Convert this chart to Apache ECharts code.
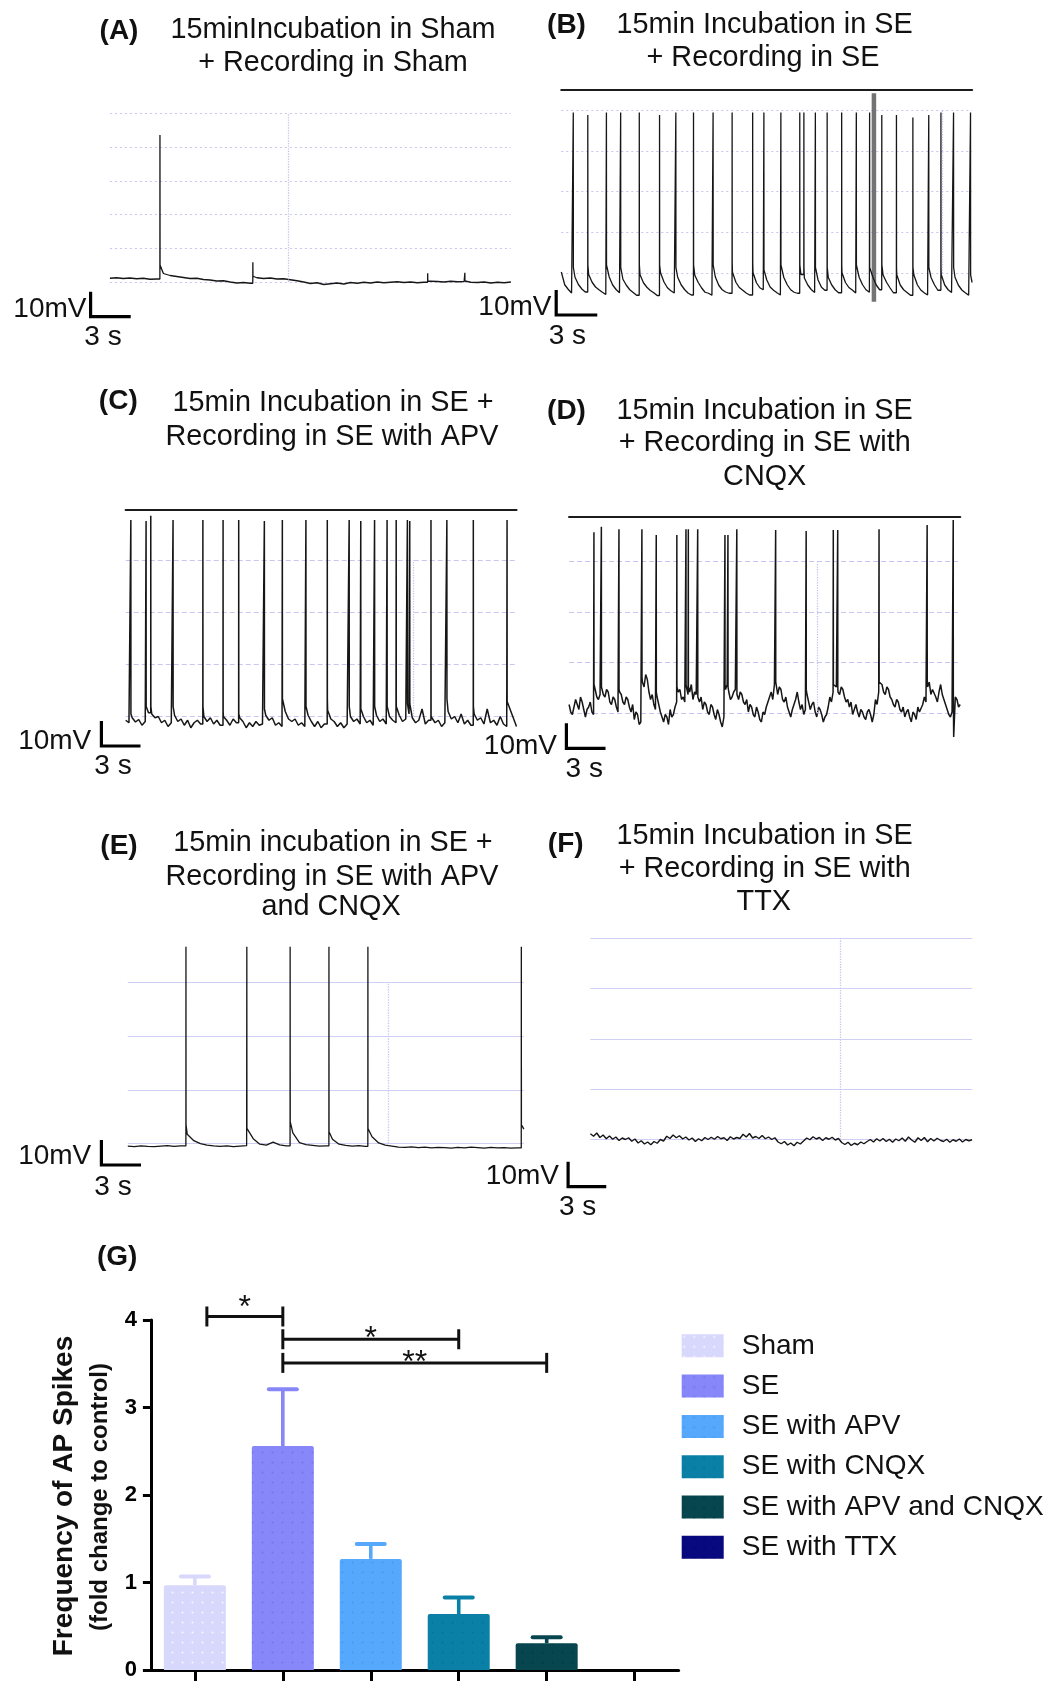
<!DOCTYPE html>
<html><head><meta charset="utf-8">
<script src="https://cdn.jsdelivr.net/npm/echarts/dist/echarts.min.js"></script>
<style>html,body{margin:0;padding:0;background:#fff}#c{width:1051px;height:1681px}</style>
</head><body><div id="c"></div>
<script>
// ---------------- DATA ----------------
// Bar chart (G)
const categories = ['Sham', 'SE', 'SE with APV', 'SE with CNQX', 'SE with APV and CNQX', 'SE with TTX'];
const freqMean = [0.97, 2.56, 1.27, 0.64, 0.305, 0];
const freqSem = [0.10, 0.65, 0.17, 0.19, 0.07, 0];
const sigFrom = [0, 1, 1];
const sigTo = [1, 3, 4];
const sigLevel = [4.04, 3.78, 3.51];
const sigMark = ['*', '*', '**'];

// Traces: baseline samples (mV, relative to rest) every step seconds; spikes: time (s), peak (mV), level right after (mV)
const stepA = 0.5;
const baseA = [0.7,0.9,0.6,0.8,0.5,0.7,0.3,0.4, 2.6,1.8,1.4,1.0,0.6,0.7,0.2,0.0,-0.4,-0.3,-0.8,-1.2,-1.0,-1.3,
  0.9,0.6,0.8,0.4,0.5,0.1,-0.3,-0.8,-1.4,-1.1,-1.8,-1.5,-1.2,-1.6,-1.0,-1.3,-0.9,-1.2,-0.8,-1.1,-0.9,-0.7,-1.0,-0.8,
  -1.1,-0.9,-0.5,-0.6,-0.8,-0.5,-0.7,-0.6,-0.9,-1.0,-0.8,-1.2,-0.9,-1.1,-0.8];
const spikeTimesA = [3.74, 10.69, 23.77, 26.55];
const spikePeaksA = [58, 7.1, 2.7, 2.9];
const spikeAfterA = [6, 1.5, -0.5, -0.4];

const stepB = 0.25;
const baseB = [7.2,2.1,0.3,-1.2,5.1,2.2,0.4,-0.8,6.2,3.1, 1.2,0.1,-0.9,-1.8,5.2,2.0,0.2,-1.1,4.3,1.9,
  0.1,-1.0,-2.1,6.1,2.9,1.1,-0.2,-1.1,-2.2,6.8, 3.2,0.9,-0.3,-1.2,5.1,2.1,0.2,-1.2,-2.0,5.9,
  3.0,0.8,-0.9,-1.3,-2.1,5.2,1.9,0.1,-0.8,-1.3, 7.1,3.1,1.0,-0.1,-1.2,-2.0,7.0,2.9,0.9,0.1,
  4.1,1.2,-0.1,-1.1,-2.0,5.0,2.1,0.1,-0.9,-1.3, 6.2,4.8,2.0,0.2,-1.0,4.0,1.1,-0.1,5.0,2.0,
  0.1,-1.1,6.9,3.0,1.0,0.0,-1.2,5.1,2.1,0.1, -0.9,5.2,2.0,0.1,6.0,3.1,0.9,-1.1,6.1,2.0,
  0.1,-1.0,-2.1,6.0,2.1,0.0,-1.1,-2.0,5.0,2.1, -0.1,6.1,2.0,0.1,-1.0,5.1,1.9,0.0,-1.1,-2.1, 3.0];
const spikeTimesB = [0.87,1.93,3.29,4.33,5.69,7.17,8.36,9.65,11.08,12.47,13.97,14.79,16.03,17.41,17.71,18.55,19.41,20.47,21.54,22.51,23.40,24.47,25.67,26.83,27.72,28.64,29.88];
const spikePeaksB = [71,70,71,71,71,70,71,71,71,71,71,71,71,71,71,71,71,71,71,71,70,70,69,70,71,71,71];
const spikeAfterB = [9,10,10,9,10,10,9,10,10,11,11,8,10,10,9,9,9,10,10,9,10,9,9,9,9,9,6];
const artifactB = [22.83, -4.7, 78.7]; // time, from, to

const stepC = 0.25;
const baseC = [1.5,0.5,2.5,0.8,1.8,-0.5,1.0,4.5,4.0,2.5, 3.0,0.5,1.5,-1.0,0.5,3.5,1.0,2.0,-0.5,1.5,
  -1.5,0.5,1.5,0.0,3.0,1.0,2.5,0.0,1.5,-0.5, 3.0,1.5,-0.5,2.0,0.5,2.5,1.0,-1.5,0.5,-1.0,
  1.0,-0.5,0.0,3.5,1.5,2.5,-0.5,0.5,-1.0,5.0, 2.0,1.0,2.0,-0.5,0.5,-1.0,3.5,1.0,-1.0,1.0,
  -1.5,0.0,5.5,2.0,1.0,-1.0,0.5,-1.5,0.0,3.0, 1.0,2.0,0.0,3.0,0.5,1.5,-0.5,3.5,1.0,2.0,
  0.0,3.0,1.5,0.5,3.5,1.0,2.0,4.0,2.5,0.5, 1.5,6.0,0.0,1.5,2.5,0.5,1.5,-1.0,0.5,5.0,
  2.0,3.0,0.5,4.0,0.0,1.5,-0.5,4.0,1.5,2.5, 0.0,6.0,0.5,1.5,-0.5,3.0,0.0,-1.0,6.0,2.5, -1.0];
const spikeTimesC = [0.39,1.56,1.92,3.63,5.92,7.47,8.67,10.64,12.02,13.83,15.47,17.15,18.04,19.10,20.06,20.76,21.62,21.80,23.43,24.65,26.68,29.27];
const spikePeaksC = [81.6,81.2,83.3,81.6,81.6,81.6,81.6,81.2,81.6,81.6,81.6,81.6,81.2,81.6,81.6,81.6,81.6,81.2,81.6,81.6,81.6,81.6];
const spikeAfterC = [4,7,7,7,7,5,4,6,10,7,10,7,6,7,7,7,8,8,3,10,7,9];

const stepD = 0.125;
const baseD = [1,-2, -3,0, 3,1, -1,4, 2,-1, -4,-1, 0,2, -2,-3, 7,4, 3,5,
  8,5, 4,7, 6,2, 1,4, 3,0, -2,6, 5,2, 1,4, 3,0, -2,1,
  -5,-2, -3,-7, -6,10, 8,13, 11,6, 3,5, 1,-1, 4,1, -2,-4, -6,-3,
  -4,-7, -1,-4, -3,0, 2,6, 7,3, 4,2, 8,5, 6,9, 3,6, 5,4,
  2,4, -1,2, 1,-2, -3,1, 0,-3, -5,-1, -3,-6, -8,-4, 7,9, 6,3,
  4,6, 7,5, 3,6, 5,2, 1,3, -2,1, 0,-3, -4,0, -2,-5, -6,-2,
  -3,0, 2,4, 6,3, 9,10, 5,8, 7,3, 2,4, 0,-2, -4,-1, 1,3,
  6,2, -1,1, -3,-1, 5,2, -1,1, 2,-2, -4,0, -1,-3, -6,-4, -3,0,
  4,2, 6,9, 8,6, 5,8, 7,4, 2,3, 0,2, -3,-1, 1,-2, -4,-1,
  -2,-4, -5,-2, -1,-3, -6,-3, 3,1, 6,10, 9,6, 5,8, 7,4, 3,1,
  0,3, 2,-1, -2,0, -4,-2, -1,-4, -6,-2, -3,-5, 0,-2, -2,1, 4,2,
  8,10, 5,7, 7,4, 2,6, 9,5, 3,1, -1,-3, -4,-2, -12,4, 3,0, 1];
const spikeTimesD = [1.90,2.47,3.82,5.58,6.68,8.26,8.96,9.14,9.86,11.95,12.18,12.86,15.84,18.18,20.26,20.60,23.77,27.46,29.46];
const spikePeaksD = [69.9,72.1,71.1,71.1,68.8,68.8,71.1,71.1,71.1,68.8,68.8,71.1,70.8,70.4,70.8,70.8,71.1,72.8,74.8];
const spikeAfterD = [9,8,7,12,6,8,9,8,7,9,8,8,10,7,9,8,10,9,6];

const stepE = 0.5;
const baseE = [0.2,0.0,0.3,0.1,0.0,0.2,0.4,0.1,0.3, 5.0,2.4,1.2,0.6,0.3,0.1,0.3,0.0,0.2,
  0.4,3.2,1.0,0.6,1.8,0.7,0.3, 5.5,1.6,0.8,0.5,0.2,0.3, 3.0,1.0,0.5,0.2,0.4,0.1,
  4.0,1.5,0.6,0.2,-0.2,-0.3,-0.1,-0.4,-0.2,-0.5,-0.3,-0.4,-0.6,-0.3,-0.5,-0.2,-0.4,-0.6,-0.3,-0.5,-0.4,-0.6,-0.5, 7.0];
const spikeTimesE = [4.40, 9.01, 12.29, 15.23, 18.18, 29.80];
const spikePeaksE = [80, 80, 80, 80, 80, 80];
const spikeAfterE = [8.7, 7.3, 10, 6, 7.3, 8.7];

const stepF = 0.25;
const baseF = [2.5,1.5,2.8,1.0,2.0,0.5,1.6,0.3,1.2,-0.2,0.8,0.2,0.9,
  -0.5,0.4,-1.2,-0.3,-1.6,-0.8,-1.9,-0.6,-1.3,0.2,-0.4,
  1.5,0.6,2.0,0.9,1.7,0.4,1.2,0.0, 0.8,-0.6,0.5,-0.3,1.0,0.2,
  1.1,0.3,1.4,0.5,0.9,-0.2,1.3,0.4,1.0,0.6, 2.3,1.2,2.6,0.8, 1.4,0.6,1.8,0.5,1.2,0.2,0.9,
  -0.8,-1.5,-0.6,-2.0,-1.2,-2.3,-0.9,-1.6,-0.4, 0.8,0.1,1.3,0.4,1.0,-0.2,0.9,0.3,1.1,0.0,0.6,
  -1.0,-1.8,-0.9,-2.2,-1.3,-1.9,-0.8,-1.5,-0.6, 0.2,-0.8,0.5,-0.4,0.6,-0.6,0.3,-0.9,0.4,-0.3,
  0.8,-0.5,1.2,0.0,-0.9,0.9,-0.2,1.0,-0.7,0.6,-0.4,0.7,-0.1, -0.6,0.3,-0.9,0.1,-0.5,0.4,-0.8,0.2,-0.3,0.1];

const scaleBarMV = 10, scaleBarS = 3, traceSeconds = 30;

// ---------------- STYLE / LAYOUT ----------------
const FONT = '"Liberation Sans", Arial, Helvetica, sans-serif';
const barColors = ['#d8d8fd', '#8787f9', '#56a8fd', '#0b80a6', '#07464f', '#08087f'];
const decalColors = ['rgba(255,255,255,0.85)', 'rgba(95,95,225,0.45)', 'rgba(40,135,235,0.45)', 'rgba(0,95,130,0.45)', 'rgba(0,45,55,0.5)', 'rgba(0,0,90,0.3)'];
const sigInsetPx = [12, 0, 0];   // bracket left-end inset (px)
const sigStarLiftPx = [15, 7, 7]; // star height above bracket (px)
const PX_PER_MV = 2.5;
const TITLE_SIZE = 28.8;
const panels = [
  {left:109.9, top:113.3, width:401,   divPx:33.75, nDiv:5, zero:280,    topLine:null, vLine:13.35, barPx:[90.6, 316.7],  base:baseA, step:stepA, t:spikeTimesA, p:spikePeaksA, a:spikeAfterA, div:'dotted', lw:1.3},
  {left:561.3, top:110,   width:410.8, divPx:40.8,  nDiv:4, zero:290,    topLine:20,   vLine:27.85, barPx:[556.2, 315],   base:baseB, step:stepB, t:spikeTimesB, p:spikePeaksB, a:spikeAfterB, div:'dotted', lw:1.3},
  {left:125.7, top:560,   width:390.8, divPx:52.2,  nDiv:3, zero:724,    topLine:50.7, vLine:22.05, barPx:[101.4, 746],   base:baseC, step:stepC, t:spikeTimesC, p:spikePeaksC, a:spikeAfterC, div:'dashed', lw:1.5},
  {left:569.1, top:561,   width:391.1, divPx:50.8,  nDiv:3, zero:707,    topLine:44.3, vLine:19.04, barPx:[566.4, 748.3], base:baseD, step:stepD, t:spikeTimesD, p:spikePeaksD, a:spikeAfterD, div:'dashed', lw:1.5},
  {left:127.8, top:982.7, width:396.1, divPx:53.65, nDiv:3, zero:1146.7, topLine:null, vLine:19.71, barPx:[101.4, 1165],  base:baseE, step:stepE, t:spikeTimesE, p:spikePeaksE, a:spikeAfterE, div:'solid', lw:1.3},
  {left:590.4, top:938.3, width:381.7, divPx:50.3,  nDiv:4, zero:1140,   topLine:null, vLine:19.62, barPx:[568.1, 1186.7], base:baseF, step:stepF, t:[], p:[], a:[], div:'solid', lw:1.4}
];

function traceData(base, step, times, peaks, afters) {
  const pts = base.map((v, i) => [Math.round(i * step * 1000) / 1000, v]);
  times.forEach((t, k) => {
    const b = base[Math.floor(t / step)];
    pts.push([t, b], [t + 0.005, peaks[k]], [t + 0.012, afters[k]]);
  });
  pts.sort((u, v) => u[0] - v[0]);
  return pts;
}

const grids = [], xAxes = [], yAxes = [], series = [];
const topAxes = [];
// grids 0-5: traces
panels.forEach((pn, i) => {
  const h = pn.nDiv * pn.divPx;
  const yMax = (pn.zero - pn.top) / PX_PER_MV;
  const yMin = yMax - h / PX_PER_MV;
  grids.push({left: pn.left, top: pn.top, width: pn.width, height: h, containLabel: false});
  xAxes.push({gridIndex: i, type: 'value', min: 0, max: traceSeconds, show: false});
  yAxes.push({gridIndex: i, type: 'value', min: yMin, max: yMax, show: false});
  if (pn.topLine != null) {
    topAxes.push({gridIndex: i, type: 'value', position: 'top', offset: pn.topLine, min: 0, max: 1,
      axisLine: {show: true, onZero: false, lineStyle: {color: '#1c1c1c', width: 2.2}},
      axisTick: {show: false}, axisLabel: {show: false}, splitLine: {show: false}});
  }
  series.push({
    type: 'line', xAxisIndex: i, yAxisIndex: i, clip: false, symbol: 'none', showSymbol: false, z: 4,
    data: traceData(pn.base, pn.step, pn.t, pn.p, pn.a),
    lineStyle: {color: '#161616', width: pn.lw},
    markLine: {silent: true, symbol: ['none', 'none'], label: {show: false}, animation: false,
      lineStyle: {color: '#c4c4ef', type: 'dotted', width: 1.3}, data: [{xAxis: pn.vLine}]}
  });
});
// grid 6: bar chart
grids.push({left: 150.9, top: 1320, width: 527.7, height: 350, containLabel: false});
// grids 7-12: scale bars (3 s x 10 mV, sized with each panel's own scale)
panels.forEach((pn, i) => {
  const w = scaleBarS * pn.width / traceSeconds, h = scaleBarMV * PX_PER_MV;
  grids.push({left: pn.barPx[0], top: pn.barPx[1] - h, width: w, height: h, containLabel: false});
});

// xAxes: 0-5 traces, 6 bar chart, 7-12 scale bars, then top lines
xAxes.push({gridIndex: 6, type: 'category', data: categories, boundaryGap: true,
  axisLine: {show: true, onZero: false, lineStyle: {color: '#000', width: 3}},
  axisTick: {show: true, alignWithLabel: true, interval: 0, length: 12, lineStyle: {color: '#000', width: 3}},
  axisLabel: {show: false, interval: 0}, splitLine: {show: false}});
panels.forEach((pn, i) => {
  xAxes.push({gridIndex: 7 + i, type: 'value', min: 0, max: scaleBarS, show: false});
});
topAxes.forEach(a => xAxes.push(a));

// yAxes: 0-5 traces, 6-11 divisions, 12 bar chart, 13-18 scale bars
panels.forEach((pn, i) => {
  yAxes.push({gridIndex: i, type: 'value', inverse: true, min: 0, max: pn.nDiv, interval: 1,
    axisLine: {show: false}, axisTick: {show: false}, axisLabel: {show: false},
    splitLine: {show: true, lineStyle: {color: pn.div === 'solid' ? '#cfcff6' : '#c6c6f0', width: 1.2,
      type: pn.div === 'solid' ? 'solid' : (pn.div === 'dotted' ? [2, 3] : [5, 3])}}});
});
const gY = yAxes.length;
yAxes.push({gridIndex: 6, type: 'value', min: 0, max: 4, interval: 1,
  axisLine: {show: true, lineStyle: {color: '#000', width: 3}},
  axisTick: {show: true, length: 8, lineStyle: {color: '#000', width: 3}},
  axisLabel: {show: true, margin: 14, formatter: '{t|{value}}',
    rich: {t: {fontSize: 22, fontWeight: 'bold', color: '#000', fontFamily: 'Liberation Sans'}}},
  splitLine: {show: false}});
panels.forEach((pn, i) => {
  const yi = yAxes.length;
  yAxes.push({gridIndex: 7 + i, type: 'value', min: 0, max: scaleBarMV, show: false});
  series.push({
    type: 'line', xAxisIndex: 7 + i, yAxisIndex: yi, clip: false, symbol: 'none', showSymbol: false, z: 5,
    data: [[0, scaleBarMV], [0, 0], [scaleBarS, 0]],
    lineStyle: {color: '#000', width: 3.2, join: 'miter', cap: 'butt'}
  });
});

// artifact in panel B
series.push({type: 'line', xAxisIndex: 1, yAxisIndex: 1, clip: false, symbol: 'none', showSymbol: false, z: 3,
  data: [[artifactB[0], artifactB[1]], [artifactB[0], artifactB[2]]],
  lineStyle: {color: '#5b5b5b', width: 4.5, opacity: 0.85}});

categories.forEach((name, i) => {
  series.push({
    type: 'bar', name: name, xAxisIndex: 6, yAxisIndex: gY, barWidth: 62, barGap: '-100%', z: 2,
    data: categories.map((_, j) => (j === i ? freqMean[i] : '-')),
    itemStyle: {color: barColors[i], borderRadius: [2, 2, 0, 0],
      decal: {symbol: 'circle', symbolSize: 0.4, dashArrayX: 5, dashArrayY: 5, color: decalColors[i]}}
  });
});
series.push({
  type: 'custom', xAxisIndex: 6, yAxisIndex: gY, z: 3, encode: {x: 0, y: 1},
  data: freqMean.map((m, i) => [i, m, freqSem[i]]),
  renderItem: (params, api) => {
    const i = api.value(0), m = api.value(1), s = api.value(2);
    if (!(s > 0)) return null;
    const p0 = api.coord([i, m]), p1 = api.coord([i, m + s]);
    const col = barColors[params.dataIndex];
    return {type: 'group', children: [
      {type: 'line', shape: {x1: p0[0], y1: p0[1], x2: p1[0], y2: p1[1]}, style: {stroke: col, lineWidth: 3.6}},
      {type: 'line', shape: {x1: p1[0] - 14, y1: p1[1], x2: p1[0] + 14, y2: p1[1]}, style: {stroke: col, lineWidth: 4, lineCap: 'round'}}
    ]};
  }
});
series.push({
  type: 'custom', xAxisIndex: 6, yAxisIndex: gY, z: 4, clip: false, encode: {x: 0, y: 2},
  data: sigFrom.map((f, k) => [f, sigTo[k], sigLevel[k]]),
  renderItem: (params, api) => {
    const k = params.dataIndex;
    const a = api.coord([api.value(0), api.value(2)]);
    const b = api.coord([api.value(1), api.value(2)]);
    const ax = a[0] + sigInsetPx[k];
    const hh = 10;
    const st = {stroke: '#111', lineWidth: 3};
    return {type: 'group', children: [
      {type: 'line', shape: {x1: ax, y1: a[1], x2: b[0], y2: b[1]}, style: st},
      {type: 'line', shape: {x1: ax, y1: a[1] - hh, x2: ax, y2: a[1] + hh}, style: st},
      {type: 'line', shape: {x1: b[0], y1: b[1] - hh, x2: b[0], y2: b[1] + hh}, style: st},
      {type: 'text', x: (ax + b[0]) / 2, y: a[1] + 7 - sigStarLiftPx[k], style: {text: sigMark[k], fill: '#111',
        font: '32px "Liberation Sans", Arial, sans-serif', align: 'center', verticalAlign: 'middle', textAlign: 'center', textVerticalAlign: 'middle'}}
    ]};
  }
});

// ---------------- TEXTS ----------------
function T(x, y, s, o) {
  o = o || {};
  const al = o.align || 'center';
  return {type: 'text', x: x, y: y, rotation: o.rot || 0, silent: true, z: 10,
    style: {text: s, fill: '#111', font: (o.bold ? 'bold ' : '') + (o.size || 28) + 'px ' + FONT,
      align: al, verticalAlign: 'middle', textAlign: al, textVerticalAlign: 'middle'}};
}
const R = {align: 'right'}, B = {bold: true}, H = {size: TITLE_SIZE};
const graphics = [
  T(119, 31.5, '(A)', B), T(333, 30.5, '15minIncubation in Sham', H), T(333, 63.5, '+ Recording in Sham', H),
  T(86.5, 309, '10mV', R), T(103, 337, '3 s'),
  T(566.5, 25, '(B)', B), T(764.6, 25, '15min Incubation in SE', H), T(763, 58.5, '+ Recording in SE', H),
  T(551.5, 307, '10mV', R), T(567.4, 336, '3 s'),
  T(118.3, 401, '(C)', B), T(333, 403.3, '15min Incubation in SE +', H), T(332, 437.5, 'Recording in SE with APV', H),
  T(91.3, 741, '10mV', R), T(113, 766, '3 s'),
  T(566.5, 411, '(D)', B), T(764.6, 411, '15min Incubation in SE', H), T(764.7, 443.5, '+ Recording in SE with', H),
  T(764.7, 477.5, 'CNQX', H), T(557, 746, '10mV', R), T(584.3, 769, '3 s'),
  T(119, 846, '(E)', B), T(333, 843.3, '15min incubation in SE +', H), T(332, 877, 'Recording in SE with APV', H),
  T(331, 907.5, 'and CNQX', H), T(91.3, 1156, '10mV', R), T(113, 1187, '3 s'),
  T(565.7, 844, '(F)', B), T(764.6, 836, '15min Incubation in SE', H), T(764.7, 869, '+ Recording in SE with', H),
  T(763.8, 901.7, 'TTX', H), T(559, 1176, '10mV', R), T(577.6, 1207, '3 s'),
  T(117.2, 1257.5, '(G)', B),
  T(64, 1496, 'Frequency of AP Spikes', {bold: true, rot: Math.PI / 2, size: 28}),
  T(100, 1497, '(fold change to control)', {bold: true, rot: Math.PI / 2, size: 24})
];

const chart = echarts.init(document.getElementById('c'), null, {renderer: 'canvas', width: 1051, height: 1681});
chart.setOption({
  animation: false,
  backgroundColor: '#ffffff',
  textStyle: {fontFamily: FONT},
  grid: grids, xAxis: xAxes, yAxis: yAxes, series: series,
  legend: {data: categories, orient: 'vertical', left: 681.7, top: 1331.8, padding: 0,
    itemWidth: 42, itemHeight: 23, itemGap: 12.3, icon: 'rect', selectedMode: false,
    textStyle: {fontSize: 28, color: '#111', fontFamily: FONT, lineHeight: 23, padding: [0, 0, 0, 13]}},
  graphic: graphics
});
</script></body></html>
